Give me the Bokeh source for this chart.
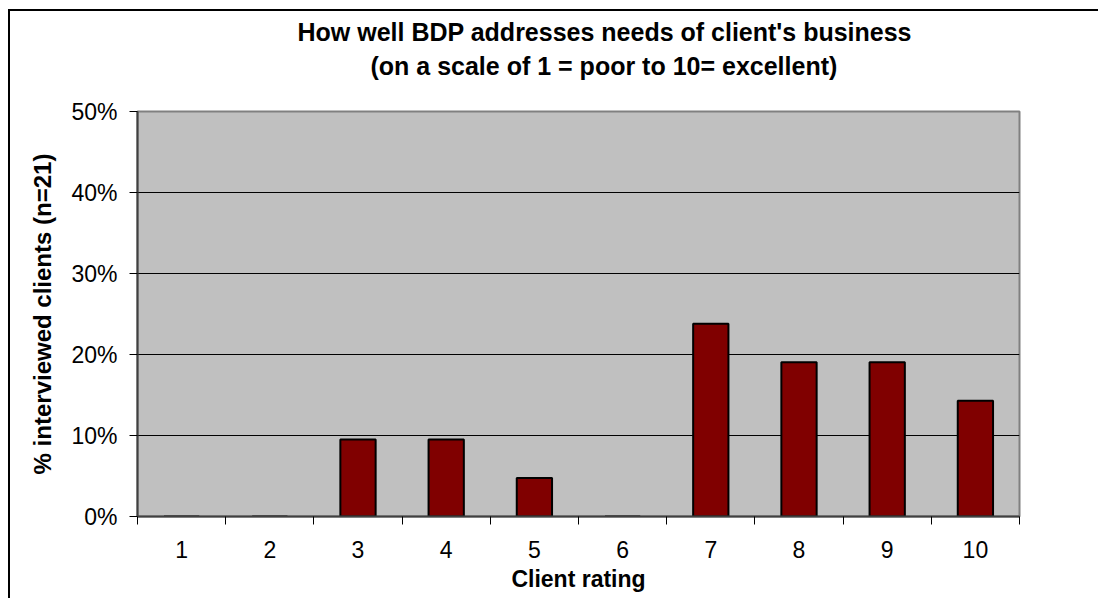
from bokeh.plotting import figure
from bokeh.models import (ColumnDataSource, FixedTicker, NumeralTickFormatter,
                          Range1d, Title, InlineStyleSheet)
from bokeh.embed import file_html
from bokeh.resources import INLINE

ratings = [1, 2, 3, 4, 5, 6, 7, 8, 9, 10]
share = [0.0, 0.0, 0.0952, 0.0952, 0.0476, 0.0, 0.2381, 0.1905, 0.1905, 0.1429]
y_ticks = [0.0, 0.1, 0.2, 0.3, 0.4, 0.5]
title_lines = ["How well BDP addresses needs of client's business",
               "(on a scale of 1 = poor to 10= excellent)"]
x_title = "Client rating"
y_title = "% interviewed clients (n=21)"

FONT = "Liberation Sans"

src = ColumnDataSource(dict(x=ratings, top=share))

p = figure(width=1098, height=598, output_backend="svg", toolbar_location=None,
           x_range=Range1d(0.5, 10.5), y_range=Range1d(0, 0.5),
           min_border_left=137, min_border_right=79, min_border_top=111,
           min_border_bottom=82)
p.background_fill_color = "#C0C0C0"
p.border_fill_color = "white"
p.outline_line_color = "#808080"
p.outline_line_width = 2

p.vbar(x="x", top="top", width=0.4, bottom=0, source=src,
       fill_color="#800000", line_color="black", line_width=2)

# axes
p.xaxis.ticker = FixedTicker(ticks=ratings, minor_ticks=[r - 0.5 for r in ratings] + [10.5])
p.xaxis.major_tick_out = 0
p.xaxis.major_tick_in = 0
p.xaxis.minor_tick_out = 8
p.xaxis.minor_tick_in = 0
p.xaxis.minor_tick_line_color = "black"
p.xaxis.axis_line_color = "#404040"
p.xaxis.axis_line_width = 2
p.xaxis.major_label_text_font = FONT
p.xaxis.major_label_text_font_size = "23px"
p.xaxis.major_label_text_color = "black"
p.xaxis.major_label_standoff = 16
p.xaxis.axis_label = x_title
p.xaxis.axis_label_text_font = FONT
p.xaxis.axis_label_text_font_size = "23px"
p.xaxis.axis_label_text_font_style = "bold"
p.xaxis.axis_label_text_color = "black"
p.xaxis.axis_label_standoff = 5

p.yaxis.ticker = FixedTicker(ticks=y_ticks)
p.yaxis.formatter = NumeralTickFormatter(format="0%")
p.yaxis.major_tick_out = 8
p.yaxis.major_tick_in = 0
p.yaxis.minor_tick_out = 0
p.yaxis.minor_tick_in = 0
p.yaxis.major_tick_line_color = "black"
p.yaxis.axis_line_color = "#404040"
p.yaxis.axis_line_width = 2
p.yaxis.major_label_text_font = FONT
p.yaxis.major_label_text_font_size = "23px"
p.yaxis.major_label_text_color = "black"
p.yaxis.major_label_standoff = 12
p.yaxis.axis_label = y_title
p.yaxis.axis_label_text_font = FONT
p.yaxis.axis_label_text_font_size = "24px"
p.yaxis.axis_label_text_font_style = "bold"
p.yaxis.axis_label_text_color = "black"
p.yaxis.axis_label_standoff = 12

p.xgrid.grid_line_color = None
p.ygrid.ticker = FixedTicker(ticks=y_ticks[1:-1])
p.ygrid.grid_line_color = "black"
p.ygrid.grid_line_width = 1

# title lines (added bottom-up: last added sits on top)
title_offsets = [160, 233]
title_standoffs = [-56, 64]
for t, off, so in reversed(list(zip(title_lines, title_offsets, title_standoffs))):
    p.add_layout(Title(text=t, align="left", offset=off, text_font=FONT,
                       text_font_size="25px", text_font_style="bold",
                       text_color="black", standoff=so), "above")

# outer chart border
p.stylesheets = [InlineStyleSheet(css="""
:host { position: relative; }
:host::after { content: ''; position: absolute; left: 8px; top: 9px;
  width: 1200px; height: 700px; border-left: 2px solid black;
  border-top: 2px solid black; pointer-events: none; }
""")]

open("out.html", "w").write(file_html(p, INLINE))
